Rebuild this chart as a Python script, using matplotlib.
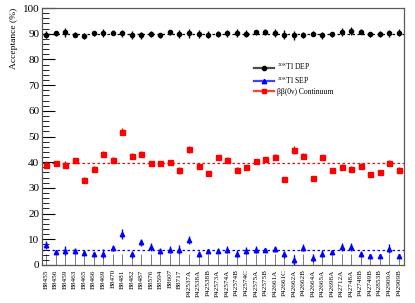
import matplotlib
matplotlib.use("Agg")
import matplotlib.pyplot as plt
from matplotlib.lines import Line2D
from matplotlib.ticker import MultipleLocator

plt.rcParams["font.family"] = ["Liberation Serif", "DejaVu Serif"]
plt.rcParams["mathtext.fontset"] = "stix"

DETECTORS = ["B8455", "B8456", "B8459", "B8463", "B8465", "B8466", "B8469",
             "B8470", "B8481", "B8482", "B8487", "B8576", "B8594", "B8607",
             "B8717", "P42537A", "P42538A", "P42538B", "P42573A", "P42574A",
             "P42574B", "P42574C", "P42575A", "P42575B", "P42661A", "P42661C",
             "P42662A", "P42662B", "P42664A", "P42665A", "P42698A", "P42712A",
             "P42748A", "P42748B", "P42749B", "P42853B", "P42909A", "P42909B"]

DEP = [89.6, 90.1, 90.5, 89.6, 89.1, 90.1, 90.4, 90.4, 90.1, 89.4, 89.4, 89.9,
       89.3, 90.5, 89.9, 90.1, 90.0, 89.6, 89.9, 90.1, 90.4, 90.0, 90.5, 90.7,
       90.2, 89.6, 89.3, 89.5, 90.0, 89.4, 89.7, 90.6, 91.0, 90.8, 89.8, 89.9,
       90.1, 90.4]
DEP_ERR = [1.3, 0.9, 1.6, 0.9, 1.2, 1.0, 1.5, 1.0, 1.2, 1.5, 1.3, 1.0,
           0.9, 1.1, 1.7, 1.7, 1.6, 1.3, 1.0, 1.3, 1.5, 1.4, 1.0, 1.2,
           1.6, 1.7, 1.7, 1.3, 1.0, 1.4, 1.0, 1.6, 1.5, 1.0, 1.0, 1.1,
           1.3, 1.3]

SEP = [7.9, 5.1, 5.6, 5.5, 4.7, 4.1, 4.4, 6.7, 12.1, 4.2, 8.8, 7.1, 5.6, 6.0,
       6.0, 9.8, 4.2, 5.3, 5.6, 6.0, 4.4, 5.6, 6.0, 5.8, 6.2, 4.1, 1.8, 6.7,
       2.8, 4.4, 5.1, 6.9, 6.9, 4.2, 3.6, 3.4, 6.4, 3.6]
SEP_ERR = [1.6, 0.9, 1.7, 1.1, 1.0, 1.0, 1.7, 1.2, 1.8, 1.3, 1.5, 1.5, 1.2, 1.5,
           1.8, 1.5, 1.1, 0.8, 1.0, 1.2, 1.4, 1.3, 1.2, 0.8, 1.2, 1.4, 2.2, 1.4,
           1.5, 1.4, 0.9, 1.5, 1.5, 1.2, 0.8, 0.8, 1.8, 0.8]

CONT = [39.1, 39.8, 39.1, 40.7, 33.2, 37.5, 43.1, 41.0, 51.8, 42.3, 43.1, 39.6,
        39.6, 39.9, 36.8, 45.0, 38.4, 35.9, 41.9, 41.0, 37.0, 38.1, 40.3, 41.4,
        42.1, 33.3, 44.8, 42.3, 33.7, 41.9, 37.0, 38.1, 37.3, 38.6, 35.5, 36.1,
        39.6, 37.0]
CONT_ERR = [1.3, 0.8, 1.2, 0.9, 0.9, 1.0, 1.2, 1.1, 1.4, 1.2, 1.2, 1.0,
            0.9, 1.0, 1.4, 1.3, 1.1, 0.8, 1.0, 1.0, 1.0, 1.0, 0.9, 0.8,
            0.9, 0.9, 1.6, 1.2, 1.0, 1.0, 0.8, 1.1, 1.2, 1.1, 0.8, 0.8,
            1.2, 1.0]

MEAN_DEP = 89.9
MEAN_SEP = 5.9
MEAN_CONT = 39.6

fig = plt.figure(figsize=(4.15, 3.03), dpi=100)
ax = fig.add_axes([42 / 415, 38 / 303, 362 / 415, 257 / 303])
x = list(range(len(DETECTORS)))

ax.axhline(MEAN_DEP, color="black", ls=(0, (2, 2)), lw=0.9, zorder=1)
ax.axhline(MEAN_SEP, color="blue", ls=(0, (2, 2)), lw=0.9, zorder=1)
ax.axhline(MEAN_CONT, color="red", ls=(0, (2, 2)), lw=0.9, zorder=1)

ax.errorbar(x, DEP, yerr=DEP_ERR, fmt="o", color="black", ms=3.0,
            elinewidth=1.0, capsize=0)
ax.errorbar(x, SEP, yerr=SEP_ERR, fmt="^", color="blue", ms=3.2,
            elinewidth=1.0, capsize=0)
ax.errorbar(x, CONT, yerr=CONT_ERR, fmt="s", color="red", ms=3.6,
            elinewidth=1.0, capsize=0)

ax.set_xlim(-0.42, 37.55)
ax.set_ylim(0, 100)
ax.set_xticks(x)
ax.set_xticklabels(DETECTORS, rotation=90, fontsize=5.2)
ax.yaxis.set_major_locator(MultipleLocator(10))
ax.yaxis.set_minor_locator(MultipleLocator(2))
ax.tick_params(axis="y", which="major", direction="in", length=9, width=0.8,
               labelsize=8, pad=2)
ax.tick_params(axis="y", which="minor", direction="in", length=5, width=0.6)
ax.tick_params(axis="x", which="major", direction="in", length=8, width=0.6,
               pad=3, color="0.4")
ax.set_ylabel("Acceptance (%)", fontsize=6.8, labelpad=3, loc="top")
for side in ["top", "right", "left", "bottom"]:
    ax.spines[side].set_color("0.35")
    ax.spines[side].set_linewidth(0.9)

handles = [
    Line2D([], [], color="0.3", lw=1.6, marker="o", ms=3.0, mfc="black", mec="black"),
    Line2D([], [], color="#4040ff", lw=1.6, marker="^", ms=3.2, mfc="blue", mec="blue"),
    Line2D([], [], color="#ff4040", lw=1.6, marker="s", ms=3.4, mfc="red", mec="red"),
]
labels = [r"$^{208}$Tl DEP", r"$^{208}$Tl SEP", "ββ(0ν) Continuum"]
ax.legend(handles, labels, loc="upper left", bbox_to_anchor=(0.57, 0.815),
          frameon=False, fontsize=5.5, handlelength=2.6, labelspacing=0.25,
          borderpad=0.2, handletextpad=0.5)

fig.savefig("out.png", dpi=100)
